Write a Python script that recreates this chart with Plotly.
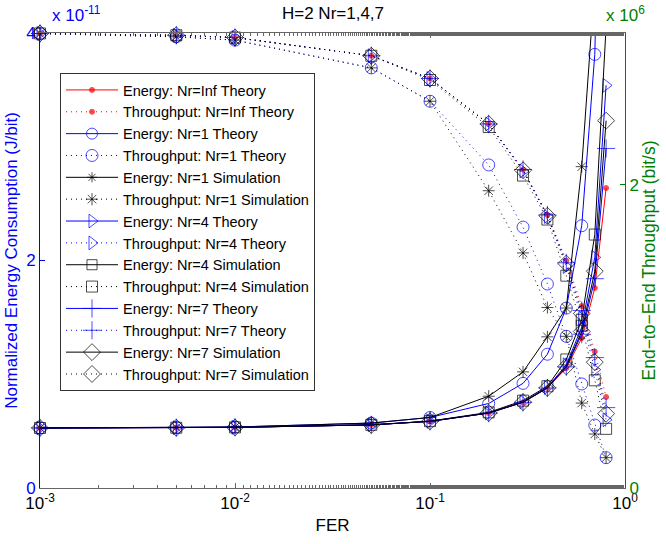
import plotly.graph_objects as go

# ---------------- data ----------------
fer = [0.001, 0.005, 0.01, 0.05, 0.1, 0.2, 0.3, 0.4, 0.5, 0.6, 0.7, 0.8]

# Normalized energy consumption, units of 1e-11 J/bit
eng_inf_th = [0.528, 0.530, 0.533, 0.555, 0.586, 0.659, 0.753, 0.879, 1.055, 1.318, 1.758, 2.637]
eng_nr1_th = [0.528, 0.532, 0.536, 0.571, 0.620, 0.743, 0.920, 1.176, 1.582, 2.306, 3.812, 7.910]
eng_nr1_sim = [0.528, 0.532, 0.536, 0.571, 0.620, 0.807, 1.021, 1.329, 1.582, 2.825, 4.444, 7.910]
eng_nr4_th = [0.528, 0.530, 0.533, 0.555, 0.586, 0.659, 0.757, 0.884, 1.084, 1.413, 2.028, 3.540]
eng_nr4_sim = [0.528, 0.530, 0.533, 0.555, 0.588, 0.665, 0.768, 0.894, 1.130, 1.479, 2.228, 4.056]
eng_nr7_th = [0.528, 0.530, 0.533, 0.555, 0.586, 0.659, 0.753, 0.879, 1.065, 1.352, 1.840, 2.985]
eng_nr7_sim = [0.528, 0.530, 0.533, 0.555, 0.586, 0.659, 0.755, 0.881, 1.069, 1.376, 1.906, 3.229]

# End-to-end throughput, units of 1e6 bit/s
thr_inf_th = [2.997, 2.985, 2.970, 2.850, 2.700, 2.400, 2.100, 1.800, 1.500, 1.200, 0.900, 0.600]
thr_nr1_th = [2.996, 2.975, 2.953, 2.770, 2.550, 2.130, 1.720, 1.345, 1.000, 0.686, 0.415, 0.200]
thr_nr1_sim = [2.996, 2.975, 2.953, 2.770, 2.550, 1.960, 1.550, 1.190, 1.000, 0.560, 0.356, 0.200]
thr_nr4_th = [2.997, 2.985, 2.970, 2.850, 2.700, 2.400, 2.090, 1.790, 1.460, 1.120, 0.780, 0.450]
thr_nr4_sim = [2.997, 2.985, 2.970, 2.850, 2.690, 2.380, 2.060, 1.770, 1.400, 1.070, 0.710, 0.390]
thr_nr7_th = [2.997, 2.985, 2.970, 2.850, 2.700, 2.400, 2.100, 1.800, 1.485, 1.170, 0.860, 0.530]
thr_nr7_sim = [2.997, 2.985, 2.970, 2.850, 2.700, 2.400, 2.095, 1.795, 1.480, 1.150, 0.830, 0.490]

x_tickvals = [0.001, 0.01, 0.1, 1]
x_ticktext = ["10<sup>-3</sup>", "10<sup>-2</sup>", "10<sup>-1</sup>", "10<sup>0</sup>"]
y1_tickvals = [0, 2, 4]
y2_tickvals = [0, 2]

# ---------------- style ----------------
RED = "#ff0000"
BLUE = "#0000ff"
BLACK = "#000000"
GREEN = "#008000"
AXGRAY = "#666666"
FONT = "Liberation Sans, Arial, Helvetica, sans-serif"
Y1MAX = 4
Y2MAX = 3
DOT = "1px,4px"

series = [
    ("Energy: Nr=Inf Theory", eng_inf_th, "y", RED, "circle", 5, "solid"),
    ("Throughput: Nr=Inf Theory", thr_inf_th, "y2", RED, "circle", 5, DOT),
    ("Energy: Nr=1 Theory", eng_nr1_th, "y", BLUE, "circle-open", 12, "solid"),
    ("Throughput: Nr=1 Theory", thr_nr1_th, "y2", BLUE, "circle-open", 12, DOT),
    ("Energy: Nr=1 Simulation", eng_nr1_sim, "y", BLACK, "asterisk-open", 10, "solid"),
    ("Throughput: Nr=1 Simulation", thr_nr1_sim, "y2", BLACK, "asterisk-open", 10, DOT),
    ("Energy: Nr=4 Theory", eng_nr4_th, "y", BLUE, "triangle-right-open", 12, "solid"),
    ("Throughput: Nr=4 Theory", thr_nr4_th, "y2", BLUE, "triangle-right-open", 12, DOT),
    ("Energy: Nr=4 Simulation", eng_nr4_sim, "y", BLACK, "square-open", 11, "solid"),
    ("Throughput: Nr=4 Simulation", thr_nr4_sim, "y2", BLACK, "square-open", 11, DOT),
    ("Energy: Nr=7 Theory", eng_nr7_th, "y", BLUE, "cross-thin-open", 13, "solid"),
    ("Throughput: Nr=7 Theory", thr_nr7_th, "y2", BLUE, "cross-thin-open", 13, DOT),
    ("Energy: Nr=7 Simulation", eng_nr7_sim, "y", BLACK, "diamond-open", 13, "solid"),
    ("Throughput: Nr=7 Simulation", thr_nr7_sim, "y2", BLACK, "diamond-open", 13, DOT),
]

fig = go.Figure()
for name, vals, yax, col, sym, size, dash in series:
    ymax = Y1MAX if yax == "y" else Y2MAX
    sizes = [size if v <= ymax else 0 for v in vals]
    fig.add_trace(go.Scatter(
        x=fer, y=vals, name=name, yaxis=yax, mode="lines+markers",
        line=dict(color=col, width=1, dash=dash),
        marker=dict(symbol=sym, size=sizes, color=col, line=dict(width=1, color=col)),
        cliponaxis=False,
    ))

fig.update_layout(
    width=666, height=544,
    paper_bgcolor="white", plot_bgcolor="white",
    margin=dict(l=40, r=41, t=33, b=56, autoexpand=False),
    font=dict(family=FONT, size=16, color="black"),
    title=dict(text="H=2 Nr=1,4,7", x=333 / 666, xref="container", xanchor="center",
               y=1 - 13 / 544, yref="container",
               yanchor="middle", font=dict(size=17, color="black")),
    showlegend=True,
    legend=dict(x=20 / 585, y=(488 - 73) / 455, xanchor="left", yanchor="top",
                bgcolor="white", bordercolor="#333333", borderwidth=1,
                font=dict(size=14.5, color="black"), traceorder="normal",
                itemwidth=52, tracegroupgap=0),
    xaxis=dict(
        type="log", range=[-3, 0], tickvals=x_tickvals, ticktext=x_ticktext,
        showgrid=False, zeroline=False, automargin=False,
        showline=True, linecolor=AXGRAY, linewidth=1, mirror="ticks",
        ticks="inside", ticklen=5, tickcolor=AXGRAY,
        minor=dict(ticks="inside", ticklen=3, tickcolor=AXGRAY, showgrid=False),
        tickfont=dict(size=17, color="black"),
        title=dict(text="FER", font=dict(size=17, color="black"), standoff=6),
    ),
    yaxis=dict(
        range=[0, Y1MAX], tickvals=y1_tickvals, showgrid=False, zeroline=False,
        automargin=False,
        showline=True, linecolor=BLUE, linewidth=1,
        ticks="inside", ticklen=5, tickcolor=BLUE,
        tickfont=dict(size=17, color=BLUE),
        title=dict(text="Normalized Energy Consumption (J/bit)",
                   font=dict(size=17, color=BLUE), standoff=4),
    ),
    yaxis2=dict(
        range=[0, Y2MAX], tickvals=y2_tickvals, overlaying="y", side="right",
        showgrid=False, zeroline=False, automargin=False,
        showline=True, linecolor=GREEN, linewidth=1,
        ticks="inside", ticklen=5, tickcolor=GREEN,
        tickfont=dict(size=17, color=GREEN),
        title=dict(text="End\u2212to\u2212End Throughput (bit/s)",
                   font=dict(size=17.5, color=GREEN), standoff=4),
    ),
    annotations=[
        dict(text="x 10<sup>-11</sup>", xref="paper", yref="paper", x=0.0, y=1.0,
             xanchor="left", yanchor="bottom", yshift=6, xshift=10, showarrow=False,
             font=dict(size=17, color=BLUE)),
        dict(text="x 10<sup>6</sup>", xref="paper", yref="paper", x=1.0, y=1.0,
             xanchor="center", yanchor="bottom", yshift=6, xshift=0, showarrow=False,
             font=dict(size=17, color=GREEN)),
    ],
)

fig.write_html("out.html", config={"displayModeBar": False},
               post_script="document.body.style.margin='0';")
